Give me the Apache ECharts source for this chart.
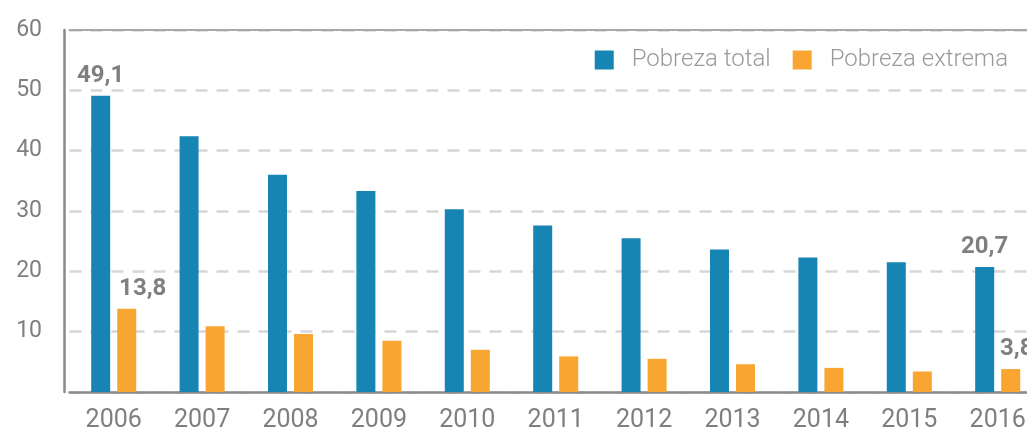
<!DOCTYPE html>
<html><head><meta charset="utf-8">
<script src="https://cdn.jsdelivr.net/npm/echarts@6/dist/echarts.min.js"></script>
<style>html,body{margin:0;padding:0;background:#fff}#c{width:1027px;height:434px}</style>
</head><body><div id="c"></div>
<script>
const years = ['2006','2007','2008','2009','2010','2011','2012','2013','2014','2015','2016'];
const pobrezaTotal = [49.1, 42.4, 36.0, 33.3, 30.3, 27.6, 25.5, 23.6, 22.3, 21.5, 20.7];
const pobrezaExtrema = [13.8, 10.9, 9.6, 8.5, 7.0, 5.9, 5.5, 4.6, 4.0, 3.4, 3.8];
const yTicks = [0, 10, 20, 30, 40, 50, 60];
const labelledIdx = [0, 10];

const fmt = v => String(v).replace('.', ',');
const gray = '#7f7f7f';
const labelBase = {show: true, position: 'top', distance: 8, color: gray, fontSize: 24, fontWeight: 'bold', fontFamily: 'Roboto', formatter: p => fmt(p.value)};

function build(arr, offsets) {
  return arr.map((v, i) => {
    if (labelledIdx.includes(i)) {
      return {value: v, label: Object.assign({}, labelBase, {offset: offsets[i] || [0, 0]})};
    }
    return {value: v};
  });
}

const chart = echarts.init(document.getElementById('c'), null, {renderer: 'canvas'});
chart.setOption({
  animation: false,
  grid: {left: 69.5, width: 972.4, top: 30, height: 362, containLabel: false, outerBoundsMode: 'none'},
  legend: {
    right: 14, top: 43, itemWidth: 19, itemHeight: 19, itemGap: 22, icon: 'rect',
    textStyle: {color: '#9a9a9a', fontSize: 24, fontWeight: 300, fontFamily: 'Roboto', padding: [0, 0, 0, 13]},
    data: ['Pobreza total', 'Pobreza extrema']
  },
  xAxis: [{
    type: 'category', data: years, position: 'bottom',
    axisLine: {lineStyle: {color: '#8a8a8a', width: 2.5}},
    axisTick: {show: false},
    axisLabel: {color: gray, fontSize: 25, fontFamily: 'Roboto', margin: 16}
  }, {
    type: 'category', data: years, position: 'top',
    axisLine: {show: true, onZero: false, lineStyle: {color: '#a8a8a8', width: 2}},
    axisTick: {show: false}, axisLabel: {show: false}, splitLine: {show: false}
  }],
  yAxis: {
    type: 'value', min: yTicks[0], max: yTicks[yTicks.length - 1], interval: 10, offset: 5.5,
    axisLine: {show: true, lineStyle: {color: '#8a8a8a', width: 2.5}},
    axisTick: {show: false},
    axisLabel: {color: gray, fontSize: 23, fontFamily: 'Roboto', margin: 22, formatter: v => v === 0 ? '' : String(v)},
    splitLine: {show: true, lineStyle: {color: '#d6d6d6', width: 2.5, type: [12, 9]}}
  },
  series: [{
    name: 'Pobreza total', type: 'bar', barWidth: 19, barGap: '37%',
    itemStyle: {color: '#1785b3'},
    data: build(pobrezaTotal, {})
  }, {
    name: 'Pobreza extrema', type: 'bar', barWidth: 19,
    itemStyle: {color: '#f9a532'},
    data: build(pobrezaExtrema, {0: [16, 0], 10: [6, 0]})
  }]
});
</script></body></html>
